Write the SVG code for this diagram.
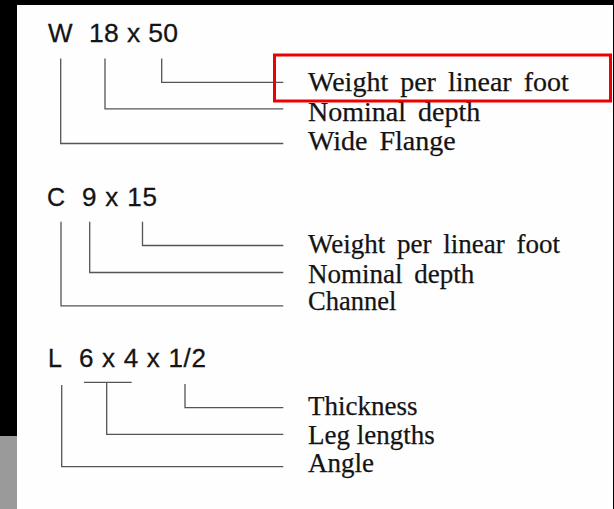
<svg xmlns="http://www.w3.org/2000/svg" width="614" height="509" viewBox="0 0 614 509">
  <style>
    .title { font-family: "Liberation Sans", Arial, sans-serif; fill: #141414; stroke: #141414; stroke-width: 0.3; }
    .label { font-family: "Liberation Serif", "Times New Roman", serif; fill: #141414; stroke: #141414; stroke-width: 0.25; }
    .ws { word-spacing: 5px; }
    .conn line, .conn polyline { stroke: #555; stroke-width: 1.3; fill: none; }
  </style>
  <rect x="0" y="0" width="614" height="509" fill="#000"/>
  <rect x="17" y="5" width="596" height="504" fill="#fefefe"/>
  <rect x="0" y="436" width="17" height="73" fill="#9a9a9a"/>

  <!-- W section -->
  <g id="title-w">
    <text class="title" x="48" y="42" font-size="26">W</text>
    <text class="title" x="89" y="42" font-size="26.5" textLength="89">18 x 50</text>
  </g>
  <g id="w-weight">
    <text class="label ws" x="308" y="91" font-size="28">Weight per linear foot</text>
  </g>
  <g id="w-depth">
    <text class="label ws" x="308" y="121" font-size="28">Nominal depth</text>
  </g>
  <g id="w-flange">
    <text class="label ws" x="308" y="150" font-size="28">Wide Flange</text>
  </g>

  <!-- C section -->
  <g id="title-c">
    <text class="title" x="47" y="206" font-size="25">C</text>
    <text class="title" x="82" y="206" font-size="26" textLength="75">9 x 15</text>
  </g>
  <g id="c-weight">
    <text class="label ws" x="308" y="253" font-size="27">Weight per linear foot</text>
  </g>
  <g id="c-depth">
    <text class="label ws" x="308" y="282.5" font-size="27">Nominal depth</text>
  </g>
  <g id="c-channel">
    <text class="label" x="308" y="310" font-size="26.5">Channel</text>
  </g>

  <!-- L section -->
  <g id="title-l">
    <text class="title" x="48" y="367" font-size="25">L</text>
    <text class="title" x="79" y="367" font-size="26" textLength="127">6 x 4 x 1/2</text>
  </g>
  <g id="l-thickness">
    <text class="label" x="308" y="415" font-size="27">Thickness</text>
  </g>
  <g id="l-legs">
    <text class="label" x="308" y="444" font-size="27">Leg lengths</text>
  </g>
  <g id="l-angle">
    <text class="label" x="308" y="472" font-size="27">Angle</text>
  </g>

  <!-- connectors -->
  <g id="connectors" class="conn">
    <polyline points="161.7,58.5 161.7,82.3 283.3,82.3"/>
    <polyline points="105,58.5 105,108.8 283.3,108.8"/>
    <polyline points="60.7,58.5 60.7,143.5 283.3,143.5"/>

    <polyline points="142.5,221.7 142.5,245.5 283.3,245.5"/>
    <polyline points="89.7,221.7 89.7,272.5 283.3,272.5"/>
    <polyline points="61,221.7 61,305.8 283.3,305.8"/>

    <line x1="84" y1="382.3" x2="131.7" y2="382.3"/>
    <polyline points="185,384 185,407.7 283.3,407.7"/>
    <polyline points="106.7,382.3 106.7,434.3 283.3,434.3"/>
    <polyline points="61.7,385 61.7,466.7 283.3,466.7"/>
  </g>

  <!-- highlight -->
  <rect id="highlight" x="274.5" y="55" width="336" height="46" fill="none" stroke="#ee0000" stroke-width="3"/>
</svg>
